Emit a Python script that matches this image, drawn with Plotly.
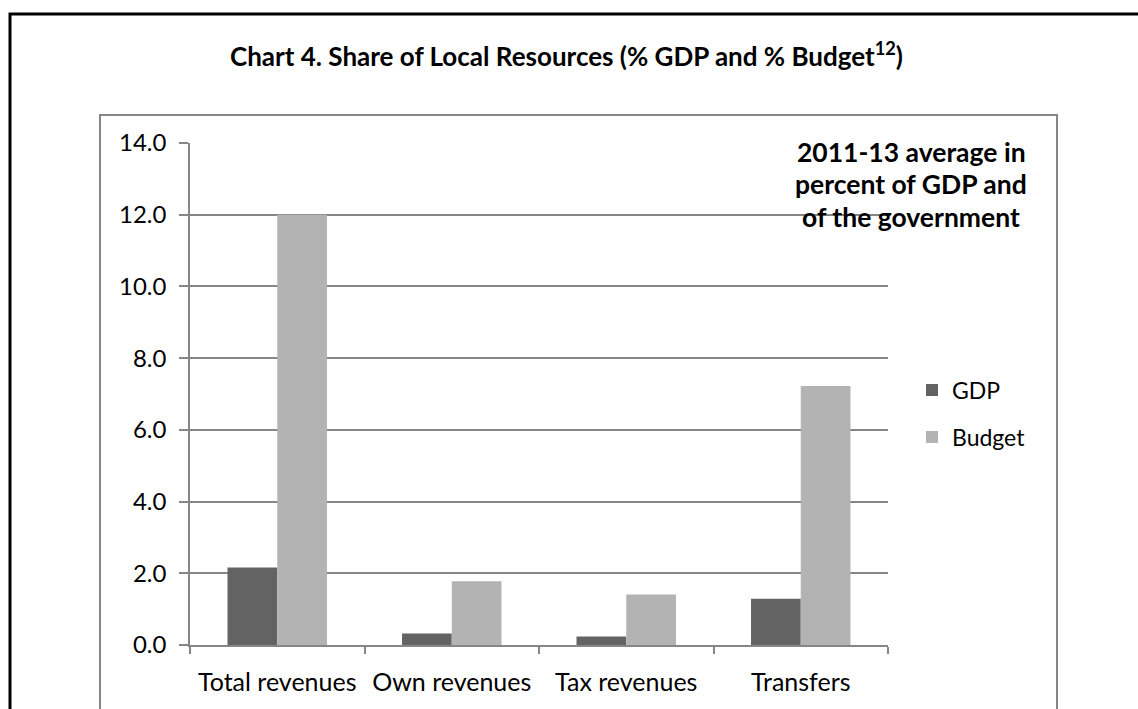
import plotly.graph_objects as go

# Chart data: 2011-13 averages
categories = ["Total revenues", "Own revenues", "Tax revenues", "Transfers"]
gdp_share = [2.16, 0.32, 0.24, 1.29]
budget_share = [12.0, 1.78, 1.41, 7.22]
y_ticks = [0, 2, 4, 6, 8, 10, 12, 14]
note_lines = ["2011-13 average in", "percent of GDP and", "of the government"]

W, H = 1138, 709
PLOT_L, PLOT_R, PLOT_T, PLOT_B = 190, 888, 143, 645
FONT = "Lato"
GRID = "#868686"


def px_x(px):
    return (px - PLOT_L) / (PLOT_R - PLOT_L)


def px_y(py):
    return (PLOT_B - py) / (PLOT_B - PLOT_T)


fig = go.Figure()
fig.add_trace(go.Bar(x=categories, y=gdp_share, name="GDP",
                     marker=dict(color="#636363", line=dict(width=0)),
                     legend="legend"))
fig.add_trace(go.Bar(x=categories, y=budget_share, name="Budget",
                     marker=dict(color="#b3b3b3", line=dict(width=0)),
                     legend="legend2"))

legend_common = dict(
    xref="paper", yref="paper", xanchor="left", yanchor="middle",
    font=dict(family=FONT, size=23, color="#000000"),
    bgcolor="rgba(0,0,0,0)", borderwidth=0,
)

annotations = [
    dict(text="<b>Chart 4. Share of Local Resources (% GDP and % Budget<sup>12</sup>)</b>",
         xref="paper", yref="paper", x=px_x(566), y=px_y(55),
         xanchor="center", yanchor="middle", showarrow=False,
         font=dict(family=FONT, size=26, color="#000000")),
]
for line, ypx in zip(note_lines, [152, 184, 217]):
    annotations.append(
        dict(text=f"<b>{line}</b>", xref="paper", yref="paper",
             x=px_x(911), y=px_y(ypx), xanchor="center", yanchor="middle",
             showarrow=False, font=dict(family=FONT, size=26.5, color="#000000")))

fig.update_layout(
    width=W, height=H,
    margin=dict(l=PLOT_L, r=W - PLOT_R, t=PLOT_T, b=H - PLOT_B, pad=0),
    paper_bgcolor="white", plot_bgcolor="white",
    barmode="group", bargap=0.43, bargroupgap=0,
    font=dict(family=FONT, size=23, color="#000000"),
    showlegend=True,
    legend=dict(x=px_x(912), y=px_y(390), **legend_common),
    legend2=dict(x=px_x(912), y=px_y(437), **legend_common),
    xaxis=dict(
        type="category", showline=True, linecolor=GRID, linewidth=1.5,
        ticks="outside", tickson="boundaries", ticklen=7, tickcolor=GRID,
        tickwidth=1.5, showgrid=False, tickfont=dict(size=25),
        ticklabelstandoff=14,
    ),
    yaxis=dict(
        range=[0, 14], tickvals=y_ticks, tickformat=".1f",
        showline=True, linecolor=GRID, linewidth=1.5,
        ticks="outside", ticklen=9, tickcolor=GRID, tickwidth=1.5,
        showgrid=True, gridcolor=GRID, gridwidth=1.5, zeroline=False,
        tickfont=dict(size=24), ticklabelstandoff=8,
    ),
    shapes=[
        # outer frame
        dict(type="rect", xref="paper", yref="paper", layer="below",
             x0=px_x(10), x1=px_x(1160), y0=px_y(14), y1=px_y(730),
             line=dict(color="#000000", width=3), fillcolor="rgba(0,0,0,0)"),
        # chart-area frame
        dict(type="rect", xref="paper", yref="paper", layer="below",
             x0=px_x(100), x1=px_x(1057), y0=px_y(115), y1=px_y(730),
             line=dict(color=GRID, width=2), fillcolor="rgba(0,0,0,0)"),
    ],
    annotations=annotations,
)

fig.write_html("out.html")
